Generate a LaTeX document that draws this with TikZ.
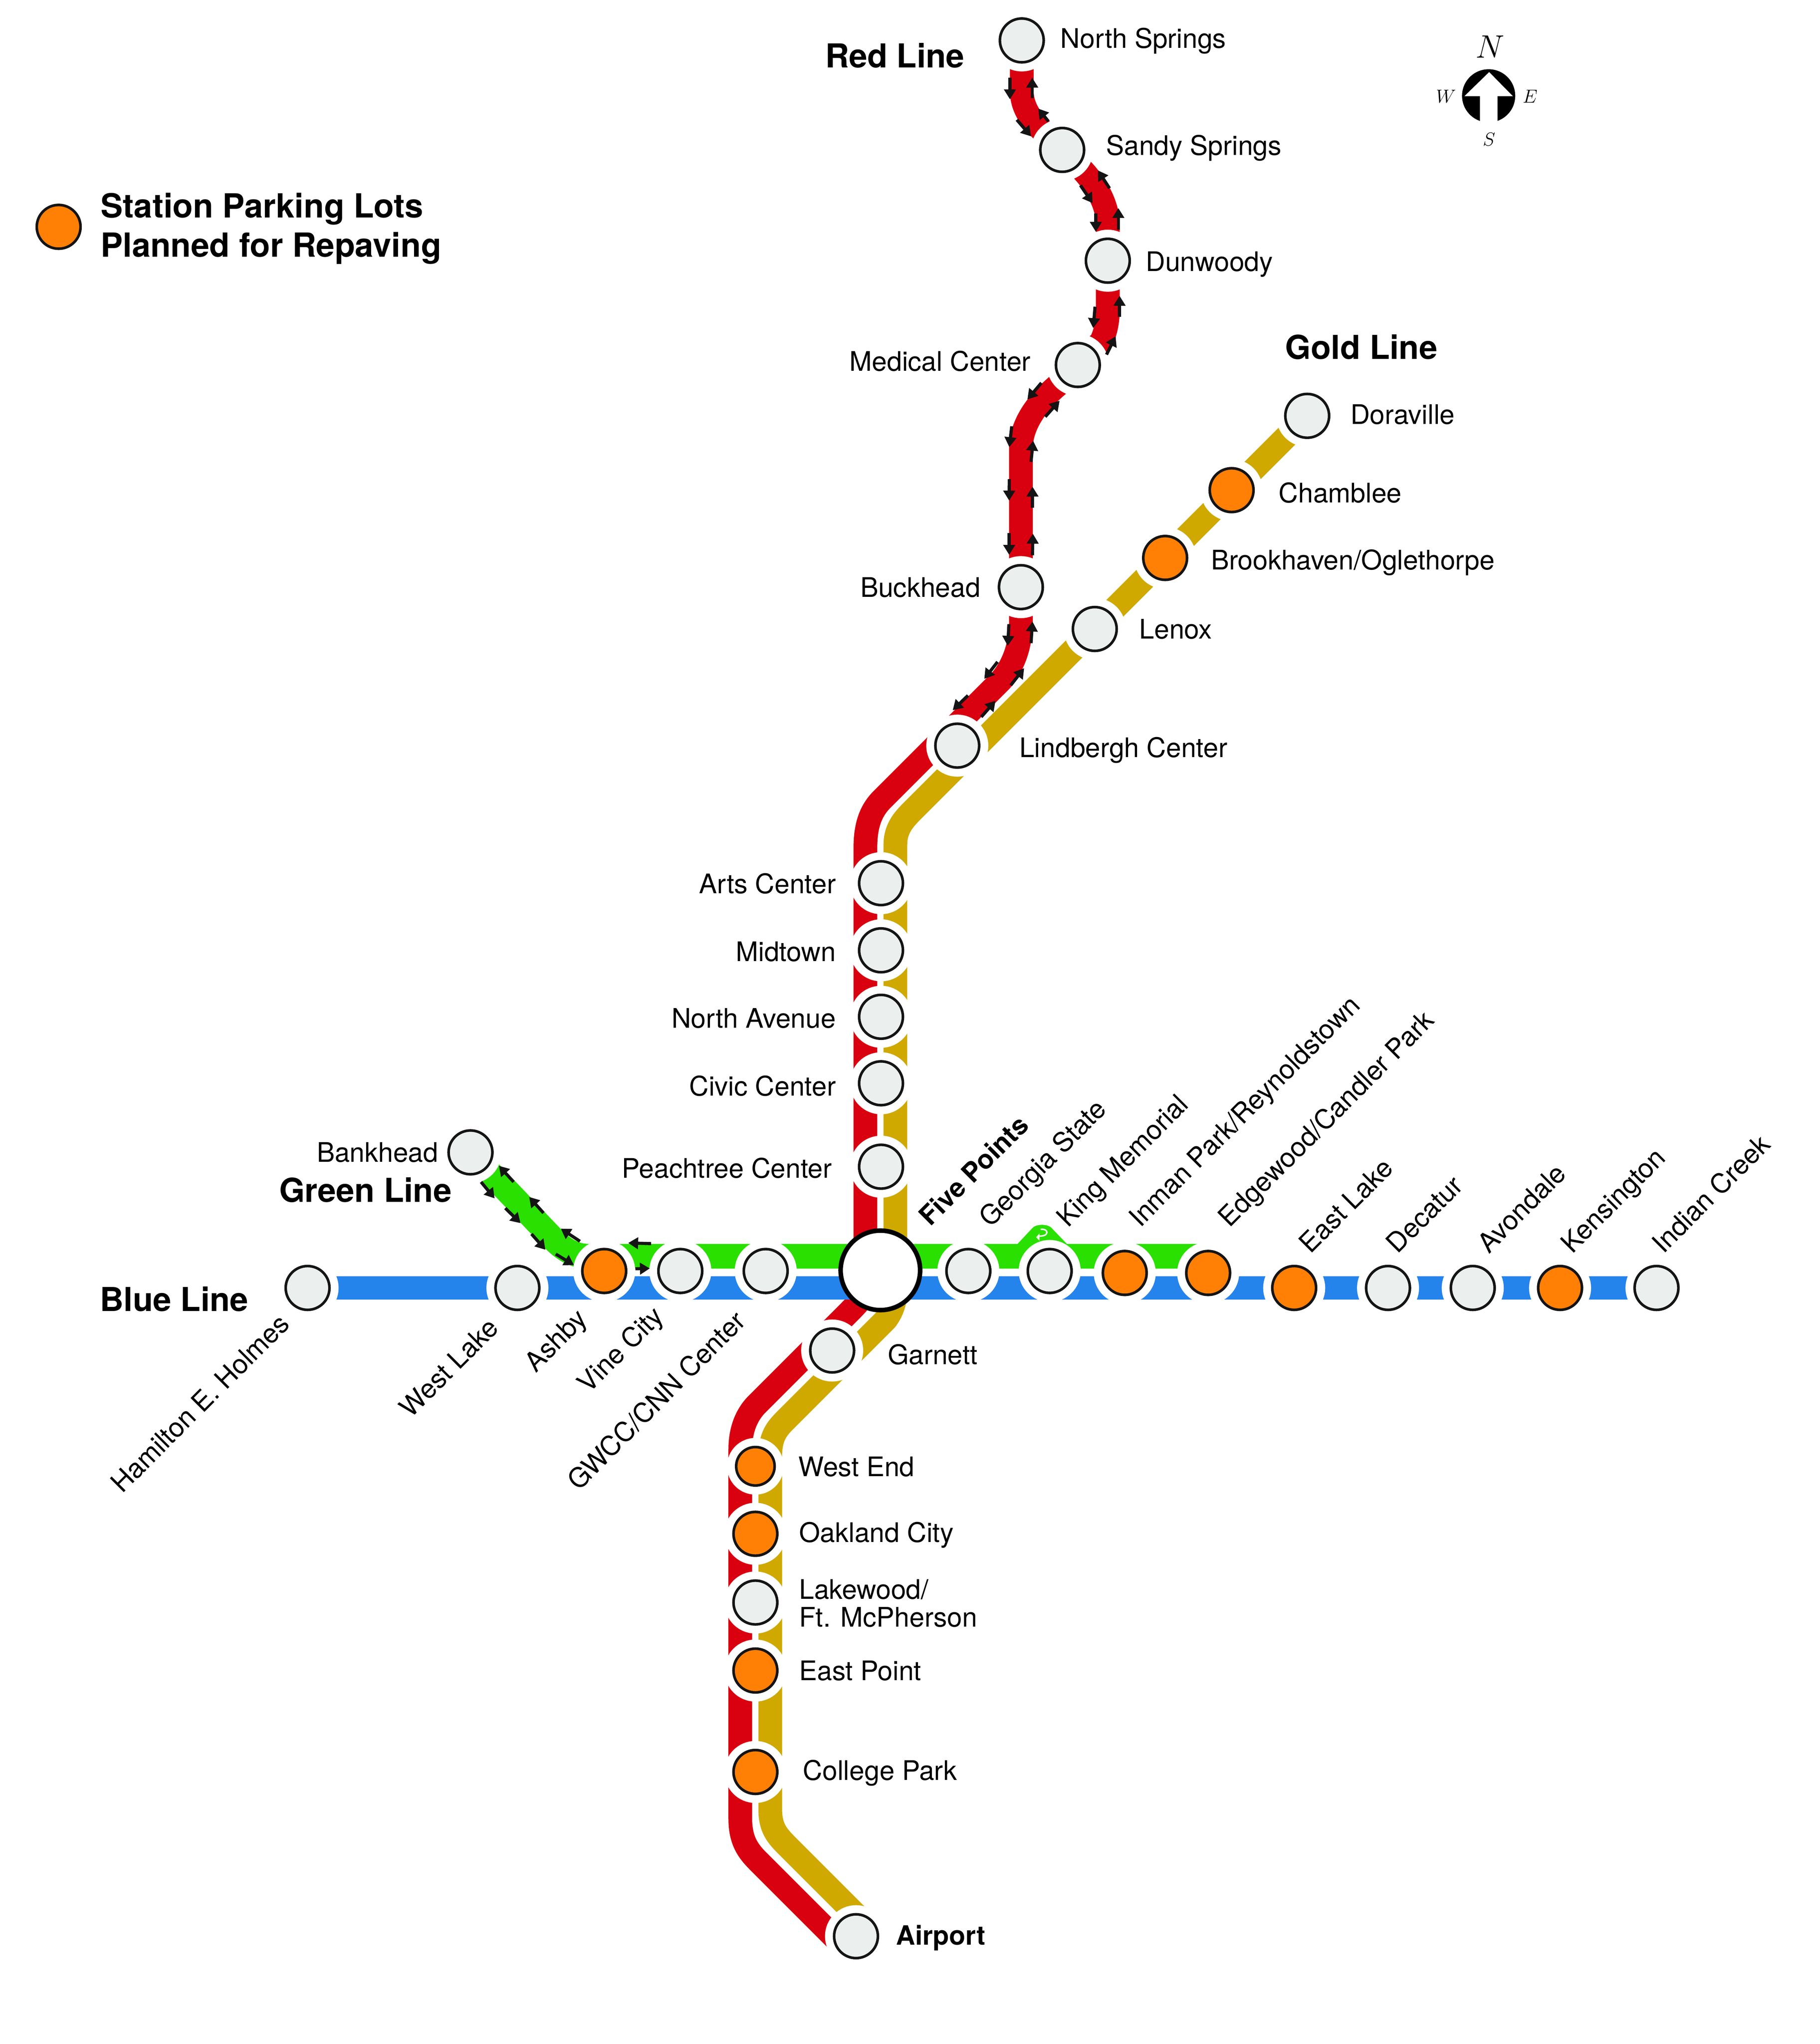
\documentclass[tikz,border=0pt]{standalone}
\usepackage{fontspec}
\setsansfont{TeX Gyre Heros}
\usetikzlibrary{arrows.meta,backgrounds}
\definecolor{trred}{HTML}{D9000F}
\definecolor{trgold}{HTML}{CFA900}
\definecolor{trgreen}{HTML}{2AE000}
\definecolor{trblue}{HTML}{2583EC}
\definecolor{stfill}{HTML}{EBF0EE}
\definecolor{storange}{HTML}{FF8004}
\definecolor{ink}{HTML}{141414}
\tikzset{
  station/.style={circle,draw=ink,line width=2pt,fill=stfill,minimum size=33.6pt,inner sep=0pt,preaction={draw=white,line width=14pt}},
  parking/.style={station,fill=storange},
  hub/.style={circle,draw=black,line width=3.5pt,fill=white,minimum size=61pt,inner sep=0pt},
  lab/.style={font=\sffamily\fontsize{20.7}{21.4}\selectfont,inner sep=0pt,text height=15pt,text depth=0pt},
  lab2/.style={font=\sffamily\fontsize{20.7}{21.4}\selectfont,inner sep=0pt,align=left},
  linelab/.style={font=\sffamily\bfseries\fontsize{25.3}{30}\selectfont,inner sep=0pt,text height=18pt,text depth=0pt,anchor=west},
  legendlab/.style={font=\sffamily\bfseries\fontsize{25.5}{30}\selectfont,inner sep=0pt,align=left,anchor=west},
  boldlab/.style={font=\sffamily\bfseries\fontsize{20.4}{21}\selectfont,inner sep=0pt,text height=15pt,text depth=0pt},
  track/.style={line width=18.2pt,draw=#1,line join=round},
  flow/.style={draw=black!92,line width=2.4pt,-{Triangle[length=7.6pt,width=8.8pt]}}
}
\newcommand{\flowlist}[1]{\foreach \xa/\ya/\xb/\yb in {#1}{\draw[flow] (\xa,\ya) -- (\xb,\yb);}}
\begin{document}
\begin{tikzpicture}[x=1pt,y=-1pt]
\useasboundingbox (0,0) rectangle (1396.3,1568);
% stations
\node[station] (ns) at (784,31) {};
\node[station] (ss) at (815,115) {};
\node[station] (dun) at (850,200) {};
\node[station] (med) at (827,280) {};
\node[station] (buck) at (783.3,450.4) {};
\node[station] (lind) at (734.5,572) {};
\node[station] (dor) at (1003,319) {};
\node[parking] (cham) at (945,376) {};
\node[parking] (brook) at (894,428) {};
\node[station] (lenox) at (840,482.5) {};
\node[station] (arts) at (676,677.5) {};
\node[station] (midt) at (676,729) {};
\node[station] (nave) at (676,780) {};
\node[station] (civic) at (676,831) {};
\node[station] (peach) at (676,895) {};
\node[hub] (five) at (675.5,974.5) {};
\node[station] (geo) at (743,975) {};
\node[station] (king) at (805.4,975) {};
\node[parking] (inman) at (863,976.5) {};
\node[parking] (edge) at (927,976.5) {};
\node[parking] (elake) at (993,988) {};
\node[station] (dec) at (1065,988) {};
\node[station] (avon) at (1130,988) {};
\node[parking] (kens) at (1197,988) {};
\node[station] (indian) at (1271,988) {};
\node[station] (ham) at (236,988) {};
\node[station] (wlake) at (397,988) {};
\node[parking] (ashby) at (463.6,975) {};
\node[station] (vine) at (522,975) {};
\node[station] (gwcc) at (587.5,975) {};
\node[station] (bank) at (361,884) {};
\node[station] (garn) at (638.5,1036) {};
\node[parking,minimum size=29.5pt] (wend) at (579.6,1124.8) {};
\node[parking] (oak) at (579.6,1176.6) {};
\node[station] (lake) at (579.6,1229.3) {};
\node[parking] (epoint) at (579.6,1281.5) {};
\node[parking] (cpark) at (579.6,1359.3) {};
\node[station] (air) at (656.8,1485.3) {};
\node[parking,preaction={}] (legdot) at (45,174) {};
% tracks
\begin{pgfonlayer}{background}
\draw[track=trgold] (dor.center) -- (700,622) .. controls (693,629) and (687,636) .. (687,648) -- (687,990) .. controls (687,998) and (685,1005) .. (680,1012) -- (602.6,1089.4) .. controls (596,1096) and (591,1102) .. (591,1117) -- (591,1388) .. controls (591,1402) and (596,1408) .. (603.6,1415.6) -- (660,1472);
\draw[track=trred] (ns.center) -- (784,70) .. controls (784,80) and (789,90) .. (798.5,99) -- (ss.center) -- (831,131) .. controls (842,143) and (850,158) .. (850,172) -- (dun.center) -- (850,238) .. controls (850,245) and (849,253) .. (845,262) -- (med.center) -- (811,296) .. controls (797,308) and (783,325) .. (783.3,345) -- (buck.center) -- (783.3,478) .. controls (783,495) and (778,510) .. (768,522) -- (677,613) .. controls (670,620) and (664,630) .. (664,650) -- (664,985) .. controls (664,994) and (660,998) .. (650,1008) -- (581,1077) .. controls (574,1084) and (568,1095) .. (568,1112) -- (568,1395) .. controls (568,1412) and (574,1420) .. (582,1428) -- (650,1496);
\draw[track=trblue,line width=18pt] (ham.center) -- (indian.center);
\draw[track=trgreen,line width=19pt] (bank.center) -- (424,950) .. controls (432,958) and (440,963.7) .. (452,963.7) -- (927,963.7);
\fill[trgreen] (780,955) -- (792.2,942) .. controls (795,938.8) and (804,938.8) .. (806.8,942) -- (819.3,955) -- cycle;
\end{pgfonlayer}
% turn-back mark
\draw[white,line width=1.1pt] (798.5,943) .. controls (805,942.5) and (805,948.5) .. (797.5,948.2);
\fill[white] (795,949.1) -- (797.6,946.2) -- (797.6,951.8) -- cycle;
% direction arrows
\flowlist{774.9/59.6/774.9/76.2,792/75.3/792/59.6,804.4/93.1/796.6/83.3,780.2/91.9/791.1/104.6,829/142.2/838.3/155.8,851.3/144.4/842.4/130.7,840.8/163.7/840.8/177.8,858.1/176.1/858.1/159.6,840.2/235.3/838.8/251.7,859/243/859/226.9,849/272/856/258,799/293.7/788.3/306.4,802/319.7/813/307.4,776.3/327/774.4/343,791.1/354.3/792.7/338.1,774.4/367.6/774.3/384,792.2/389.5/792.2/373.3,774.3/409/774.3/425.6,792.2/426/792.5/409.4,774.1/478.8/773.2/495.4,791.1/493.4/792.2/476.8,765.4/507.7/755.2/520.8,775.5/525.7/785.8/512.6,742.7/533.5/731/544.8,752.9/550/763.8/537.6,394.1/906.7/382.8/894.3,369.1/906.7/379.5/919.3,417/930.5/406/918.2,387.7/926.8/399.4/938.3,445/952.2/430.3/942.5,407.8/946.6/418.5/958.7,426.4/962/440.4/970.5,499.6/954/482/953.5,487.5/973.3/498.6/973}
% station labels, right side
\node[lab,anchor=west] (tns) at (813.5,29.5) {North Springs};
\node[lab,anchor=west] (tss) at (848.5,111.5) {Sandy Springs};
\node[lab,anchor=west] (tdun) at (879,200.5) {Dunwoody};
\node[lab,anchor=west] (tdor) at (1036,318) {Doraville};
\node[lab,anchor=west] (tcham) at (981,378) {Chamblee};
\node[lab,anchor=west] (tbrook) at (929,429.4) {Brookhaven/Oglethorpe};
\node[lab,anchor=west] (tlenox) at (874,482.6) {Lenox};
\node[lab,anchor=west] (tlind) at (782,573.5) {Lindbergh Center};
\node[lab,anchor=west] (tgarn) at (681,1039) {Garnett};
\node[lab,anchor=west] (twend) at (612.5,1125) {West End};
\node[lab,anchor=west] (toak) at (613,1175.5) {Oakland City};
\node[lab2,anchor=west] (tlake) at (613,1230) {Lakewood/\\Ft. McPherson};
\node[lab,anchor=west] (tepoint) at (613,1281.5) {East Point};
\node[lab,anchor=west] (tcpark) at (616,1358) {College Park};
\node[boldlab,anchor=west] (tair) at (687.4,1484.5) {Airport};
% station labels, left side
\node[lab,anchor=east] (tmed) at (791,277) {Medical Center};
\node[lab,anchor=east] (tbuck) at (752.5,450.5) {Buckhead};
\node[lab,anchor=east] (tarts) at (641.5,678) {Arts Center};
\node[lab,anchor=east] (tmidt) at (641.5,730) {Midtown};
\node[lab,anchor=east] (tnave) at (641.5,781) {North Avenue};
\node[lab,anchor=east] (tcivic) at (641.5,833) {Civic Center};
\node[lab,anchor=east] (tpeach) at (638.5,896) {Peachtree Center};
\node[lab,anchor=east] (tbank) at (336.5,884) {Bankhead};
% rotated labels
\node[boldlab,anchor=west,rotate=45] (tfive) at (708.5,936) {Five Points};
\node[lab,anchor=west,rotate=45] (tgeo) at (754.5,937) {Georgia State};
\node[lab,anchor=west,rotate=45] (tking) at (814,937) {King Memorial};
\node[lab,anchor=west,rotate=45] (tinman) at (869.5,937) {Inman Park/Reynoldstown};
\node[lab,anchor=west,rotate=45] (tedge) at (938,937) {Edgewood/Candler Park};
\node[lab,anchor=west,rotate=45] (telake) at (1000,957) {East Lake};
\node[lab,anchor=west,rotate=45] (tdec) at (1067,957) {Decatur};
\node[lab,anchor=west,rotate=45] (tavon) at (1137,957) {Avondale};
\node[lab,anchor=west,rotate=45] (tkens) at (1201,957) {Kensington};
\node[lab,anchor=west,rotate=45] (tindian) at (1271,957) {Indian Creek};
\node[lab,anchor=east,rotate=45] (tham) at (218,1011.5) {Hamilton E. Holmes};
\node[lab,anchor=east,rotate=45] (twlake) at (378.5,1014.5) {West Lake};
\node[lab,anchor=east,rotate=45] (tashby) at (446.5,1007.5) {Ashby};
\node[lab,anchor=east,rotate=45] (tvine) at (505,1005.5) {Vine City};
\node[lab,anchor=east,rotate=45] (tgwcc) at (568,1009.5) {GWCC/CNN Center};
% line names
\node[linelab] (lred) at (633,43) {Red Line};
\node[linelab] (lgold) at (986,266.5) {Gold Line};
\node[linelab] (lgreen) at (214,913) {Green Line};
\node[linelab] (lblue) at (76.5,997) {Blue Line};
% legend
\node[legendlab] (tleg) at (77,175.3) {Station Parking Lots\\Planned for Repaving};
% compass
\fill[black] (1142.2,73.5) circle (20.4pt);
\fill[white] (1142.6,55.3) -- (1160.8,73.8) -- (1149,73.8) -- (1149,95) -- (1135.6,95) -- (1135.6,73.8) -- (1123.6,73.8) -- cycle;
\node[inner sep=0pt,font=\fontsize{24.88}{25}\selectfont] (cn) at (1143.2,36) {$N$};
\node[inner sep=0pt,font=\fontsize{14.4}{15}\selectfont] (cw) at (1109.5,73.9) {$W$};
\node[inner sep=0pt,font=\fontsize{14.4}{15}\selectfont] (ce) at (1174,73.9) {$E$};
\node[inner sep=0pt,font=\fontsize{14.4}{15}\selectfont] (cs) at (1142.5,106.9) {$S$};
\end{tikzpicture}
\end{document}
